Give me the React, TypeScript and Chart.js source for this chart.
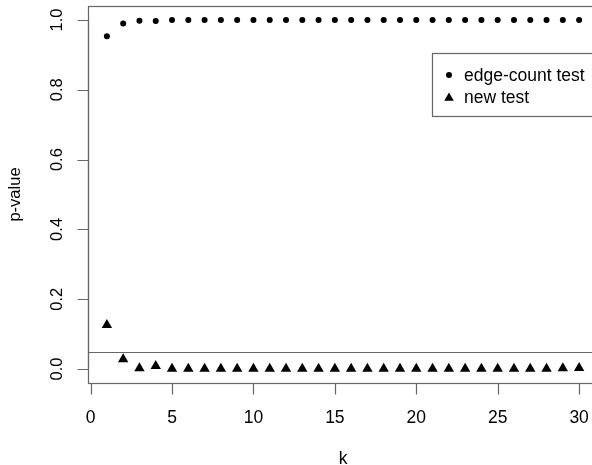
import React, { useEffect, useRef } from "react";
import { Chart, registerables } from "chart.js";

Chart.register(...registerables);

const kValues = [1, 2, 3, 4, 5, 6, 7, 8, 9, 10, 11, 12, 13, 14, 15, 16, 17, 18, 19, 20, 21, 22, 23, 24, 25, 26, 27, 28, 29, 30];
const edgeCountP = [0.953, 0.99, 0.998, 0.997, 1, 1, 1, 1, 1, 1, 1, 1, 1, 1, 1, 1, 1, 1, 1, 1, 1, 1, 1, 1, 1, 1, 1, 1, 1, 1];
const newTestP = [0.126, 0.028, 0.002, 0.009, 0.001, 0.001, 0.001, 0.001, 0.001, 0.001, 0.001, 0.001, 0.001, 0.001, 0.001, 0.001, 0.001, 0.001, 0.001, 0.001, 0.001, 0.001, 0.001, 0.001, 0.001, 0.001, 0.001, 0.001, 0.002, 0.003];
const xTicks = [0, 5, 10, 15, 20, 25, 30];
const yTicks = [0, 0.2, 0.4, 0.6, 0.8, 1.0];
const yTickLabels = ["0.0", "0.2", "0.4", "0.6", "0.8", "1.0"];
const refLineValue = 0.05;
const legendLabels = ["edge-count test", "new test"];
const xTitle = "k";
const yTitle = "p-value";

const CANVAS_W = 620;
const CANVAS_H = 465;
const FONT_H = '17.5px "Liberation Sans", Arial, sans-serif';
const FONT_V = '16.5px "Liberation Sans", Arial, sans-serif';
const LINE = "#666";

function drawTri(ctx: CanvasRenderingContext2D, x: number, y: number, r: number) {
  ctx.beginPath();
  for (let i = 0; i < 3; i++) {
    const a = (i * 2 * Math.PI) / 3;
    const px = x + Math.sin(a) * r;
    const py = y - Math.cos(a) * r;
    if (i === 0) ctx.moveTo(px, py);
    else ctx.lineTo(px, py);
  }
  ctx.closePath();
  ctx.fill();
}

const rPlotPlugin = {
  id: "rPlot",
  beforeDatasetsDraw(chart: any) {
    const ctx: CanvasRenderingContext2D = chart.ctx;
    const { left, top, right, bottom } = chart.chartArea;
    const xs = chart.scales.x;
    const ys = chart.scales.y;
    ctx.save();
    ctx.strokeStyle = LINE;
    ctx.lineWidth = 1.2;
    ctx.strokeRect(Math.round(left) + 0.5, Math.round(top) + 0.5, Math.round(right - left), Math.round(bottom - top));
    const ry = Math.round(ys.getPixelForValue(refLineValue)) + 0.5;
    ctx.beginPath();
    ctx.moveTo(left, ry);
    ctx.lineTo(right, ry);
    ctx.stroke();
    const by = Math.round(bottom) + 0.5;
    ctx.beginPath();
    ctx.moveTo(xs.getPixelForValue(xTicks[0]), by);
    ctx.lineTo(xs.getPixelForValue(xTicks[xTicks.length - 1]), by);
    xTicks.forEach((t) => {
      const px = Math.round(xs.getPixelForValue(t)) + 0.5;
      ctx.moveTo(px, by);
      ctx.lineTo(px, by + 11);
    });
    const lx = Math.round(left) + 0.5;
    ctx.moveTo(lx, ys.getPixelForValue(yTicks[0]));
    ctx.lineTo(lx, ys.getPixelForValue(yTicks[yTicks.length - 1]));
    yTicks.forEach((t) => {
      const py = Math.round(ys.getPixelForValue(t)) + 0.5;
      ctx.moveTo(lx, py);
      ctx.lineTo(lx - 11, py);
    });
    ctx.stroke();

    ctx.fillStyle = "#000";
    ctx.font = FONT_H;
    ctx.textAlign = "center";
    ctx.textBaseline = "alphabetic";
    xTicks.forEach((t) => {
      ctx.fillText(String(t), xs.getPixelForValue(t), 423);
    });
    ctx.fillText(xTitle, (left + right) / 2, 464);

    ctx.font = FONT_V;
    yTicks.forEach((t, i) => {
      ctx.save();
      ctx.translate(61.5, ys.getPixelForValue(t));
      ctx.rotate(-Math.PI / 2);
      ctx.fillText(yTickLabels[i], 0, 0);
      ctx.restore();
    });
    ctx.save();
    ctx.translate(20, (top + bottom) / 2);
    ctx.rotate(-Math.PI / 2);
    ctx.fillText(yTitle, 0, 0);
    ctx.restore();
    ctx.restore();
  },
  afterDatasetsDraw(chart: any) {
    const ctx: CanvasRenderingContext2D = chart.ctx;
    ctx.save();
    ctx.fillStyle = "#fff";
    ctx.fillRect(432.5, 53.5, 200, 63);
    ctx.strokeStyle = LINE;
    ctx.lineWidth = 1.2;
    ctx.strokeRect(432.5, 53.5, 200, 63);
    ctx.fillStyle = "#000";
    ctx.beginPath();
    ctx.arc(449, 75, 3, 0, Math.PI * 2);
    ctx.fill();
    drawTri(ctx, 449, 98, 5.5);
    ctx.font = FONT_H;
    ctx.textAlign = "left";
    ctx.textBaseline = "alphabetic";
    ctx.fillText(legendLabels[0], 464, 80.5);
    ctx.fillText(legendLabels[1], 464, 103);
    ctx.restore();
  },
};

export default function App() {
  const ref = useRef<HTMLCanvasElement | null>(null);
  useEffect(() => {
    document.body.style.margin = "0";
    document.body.style.overflow = "hidden";
    const canvas = ref.current;
    if (!canvas) return;
    const chart = new Chart(canvas, {
      type: "scatter",
      data: {
        datasets: [
          {
            label: legendLabels[0],
            data: kValues.map((k, i) => ({ x: k, y: edgeCountP[i] })),
            pointStyle: "circle",
            pointRadius: 3,
            pointBorderWidth: 0,
            backgroundColor: "#000",
            borderColor: "#000",
          },
          {
            label: legendLabels[1],
            data: kValues.map((k, i) => ({ x: k, y: newTestP[i] })),
            pointStyle: "triangle",
            pointRadius: 6,
            pointBorderWidth: 0,
            backgroundColor: "#000",
            borderColor: "#000",
          },
        ],
      },
      options: {
        animation: false,
        responsive: false,
        devicePixelRatio: 1,
        layout: { padding: { left: 88, top: 5, right: CANVAS_W - 598, bottom: CANVAS_H - 383 } },
        scales: {
          x: { type: "linear", min: -0.16, max: 31.16, display: false },
          y: { type: "linear", min: -0.04, max: 1.04, display: false },
        },
        plugins: { legend: { display: false }, tooltip: { enabled: false } },
      },
      plugins: [rPlotPlugin],
    } as any);
    return () => chart.destroy();
  }, []);
  return (
    <div style={{ position: "fixed", left: 0, top: 0, width: 592, height: 465, overflow: "hidden", background: "#fff" }}>
      <canvas ref={ref} width={CANVAS_W} height={CANVAS_H} style={{ display: "block", width: CANVAS_W, height: CANVAS_H }} />
    </div>
  );
}
